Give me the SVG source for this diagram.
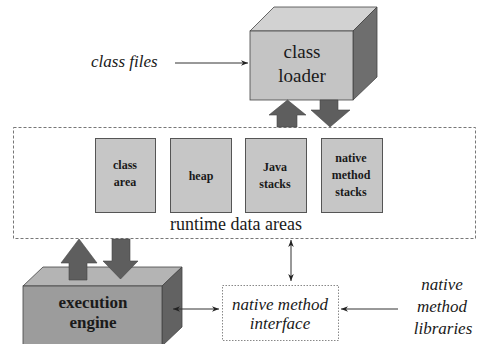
<svg xmlns="http://www.w3.org/2000/svg" width="480" height="344" viewBox="0 0 480 344">
  <style>
    text { font-family: "Liberation Serif", "DejaVu Serif", serif; fill: #1a1a1a; }
    .ital { font-style: italic; font-size: 17px; }
    .box-label { font-weight: bold; font-size: 12px; text-anchor: middle; }
    .mem { fill: #c6c6c6; stroke: #555; stroke-width: 1; }
    .fat { fill: #5e5e5e; stroke: #444; stroke-width: 0.6; }
    .thin { stroke: #333; stroke-width: 1; fill: none; }
  </style>
  <defs>
    <marker id="ah" viewBox="0 0 10 10" refX="10" refY="5" markerWidth="7" markerHeight="7" orient="auto-start-reverse" markerUnits="userSpaceOnUse">
      <path d="M0,1 L10,5 L0,9 L3,5 Z" fill="#222"/>
    </marker>
  </defs>
  <rect width="480" height="344" fill="#fff"/>

  <!-- runtime data areas container -->
  <g id="runtime">
    <rect x="13.5" y="127.5" width="462" height="111" fill="none" stroke="#777" stroke-width="1" stroke-dasharray="3 2"/>
    <text x="236" y="230" font-size="18" text-anchor="middle">runtime data areas</text>
  </g>

  <g id="class-area">
    <rect class="mem" x="95.5" y="138.5" width="60" height="74"/>
    <text class="box-label" x="125" y="169">class</text>
    <text class="box-label" x="125" y="186">area</text>
  </g>
  <g id="heap">
    <rect class="mem" x="170.5" y="138.5" width="61" height="74"/>
    <text class="box-label" x="201" y="180">heap</text>
  </g>
  <g id="java-stacks">
    <rect class="mem" x="245.5" y="138.5" width="61" height="74"/>
    <text class="box-label" x="275" y="171">Java</text>
    <text class="box-label" x="275" y="188">stacks</text>
  </g>
  <g id="native-stacks">
    <rect class="mem" x="321.5" y="138.5" width="61" height="74"/>
    <text class="box-label" x="351" y="162">native</text>
    <text class="box-label" x="351" y="179">method</text>
    <text class="box-label" x="351" y="196">stacks</text>
  </g>

  <!-- class loader block -->
  <g id="class-loader">
    <polygon points="250,31 274,7 377,7 353,31" fill="#d2d2d2" stroke="#444" stroke-width="0.8"/>
    <polygon points="353,31 377,7 377,77 353,100" fill="#6e6e6e" stroke="#444" stroke-width="0.8"/>
    <rect x="250" y="31" width="103" height="69" fill="#c4c4c4" stroke="#444" stroke-width="0.8"/>
    <text x="302" y="58" font-size="19" text-anchor="middle">class</text>
    <text x="302" y="82" font-size="19" text-anchor="middle">loader</text>
  </g>

  <!-- execution engine block -->
  <g id="execution-engine">
    <polygon points="23,286 43,267 182,267 162,286" fill="#b4b4b4" stroke="#444" stroke-width="0.8"/>
    <polygon points="162,286 182,267 182,327 162,346" fill="#626262" stroke="#444" stroke-width="0.8"/>
    <rect x="23" y="286" width="139" height="62" fill="#9c9c9c" stroke="#444" stroke-width="0.8"/>
    <text x="93" y="308" font-size="17" font-weight="600" text-anchor="middle">execution</text>
    <text x="93" y="328" font-size="17" font-weight="600" text-anchor="middle">engine</text>
  </g>

  <!-- native method interface -->
  <g id="native-interface">
    <rect x="222.5" y="285.5" width="116" height="55" fill="#fff" stroke="#888" stroke-width="1" stroke-dasharray="1.5 1.5"/>
    <text class="ital" x="280" y="310" text-anchor="middle">native method</text>
    <text class="ital" x="280" y="329" text-anchor="middle">interface</text>
  </g>

  <g id="class-files">
    <text class="ital" x="91" y="67">class files</text>
  </g>

  <g id="native-libraries">
    <text class="ital" x="442" y="290" text-anchor="middle">native</text>
    <text class="ital" x="442" y="312" text-anchor="middle">method</text>
    <text class="ital" x="443" y="334" text-anchor="middle">libraries</text>
  </g>

  <!-- connectors -->
  <g id="connectors">
    <!-- class loader <-> runtime data areas -->
    <polygon class="fat" points="277,127 277,115 269,115 287.5,100 306,115 297,115 297,127"/>
    <polygon class="fat" points="320,100 338,100 338,110 350,110 330,127 311,110 320,110"/>
    <!-- runtime data areas <-> execution engine -->
    <polygon class="fat" points="69,280 69,263 61,263 79,239 97,263 87,263 87,280"/>
    <polygon class="fat" points="112,239 130,239 130,261 138,261 120.5,279 103,261 112,261"/>
    <!-- thin arrows -->
    <line class="thin" x1="175" y1="63" x2="248" y2="63" marker-end="url(#ah)"/>
    <line class="thin" x1="291" y1="240" x2="291" y2="281" marker-start="url(#ah)" marker-end="url(#ah)"/>
    <line class="thin" x1="173" y1="309" x2="219" y2="309" marker-start="url(#ah)" marker-end="url(#ah)"/>
    <line class="thin" x1="398" y1="309" x2="341" y2="309" marker-end="url(#ah)"/>
  </g>
</svg>
